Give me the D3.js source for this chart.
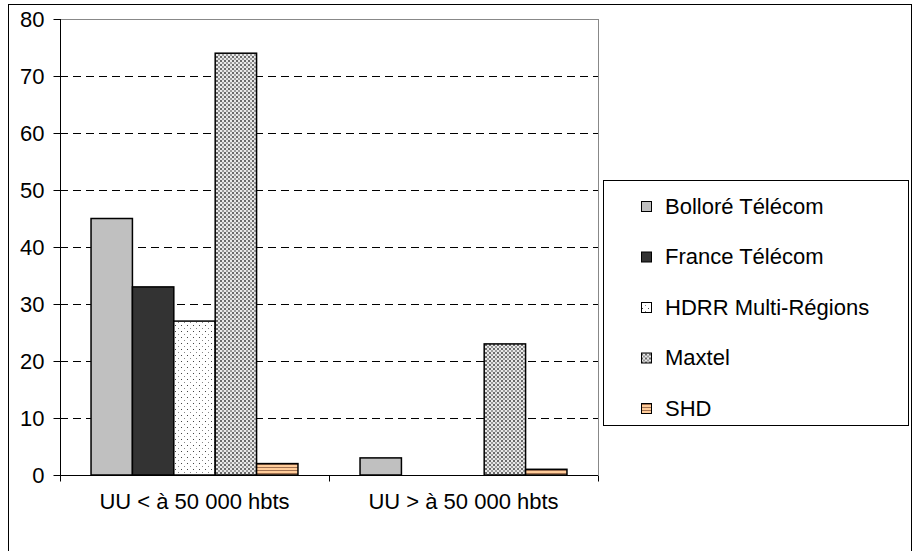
<!DOCTYPE html>
<html lang="fr">
<head>
<meta charset="UTF-8">
<title>Chart</title>
<script src="https://d3js.org/d3.v7.min.js"></script>
<style>
  body { margin: 0; background: #fff; }
  svg { display: block; font-family: "Liberation Sans", Arial, sans-serif; }
  .axis text { font-size: 22px; fill: #000; }
  .legend text { font-size: 22px; fill: #000; }
</style>
</head>
<body>
<svg width="914" height="551"></svg>
<script>
// data
const categories = ["UU < à 50 000 hbts", "UU > à 50 000 hbts"];
const seriesNames = ["Bolloré Télécom", "France Télécom", "HDRR Multi-Régions", "Maxtel", "SHD"];
const bollore = [45, 3];
const franceTelecom = [33, 0];
const hdrr = [27, 0];
const maxtel = [74, 23];
const shd = [2, 1];
const yTicks = [0, 10, 20, 30, 40, 50, 60, 70, 80];

const seriesValues = [bollore, franceTelecom, hdrr, maxtel, shd];

const svg = d3.select("svg");
const margin = { top: 19, left: 60, bottom: 76 };
const height = 551;
const plotRight = 598;

// outer frame
svg.append("rect")
  .attr("x", 8.5).attr("y", 4.5)
  .attr("width", 903).attr("height", 560)
  .attr("fill", "#fff").attr("stroke", "#000");

// patterns
const defs = svg.append("defs");
const dots = defs.append("pattern").attr("id", "dots")
  .attr("patternUnits", "userSpaceOnUse").attr("width", 6).attr("height", 6);
dots.append("rect").attr("width", 6).attr("height", 6).attr("fill", "#fff");
dots.append("rect").attr("x", 1).attr("y", 1).attr("width", 1).attr("height", 1).attr("fill", "#444");
dots.append("rect").attr("x", 4).attr("y", 4).attr("width", 1).attr("height", 1).attr("fill", "#888");

const checker = defs.append("pattern").attr("id", "checker")
  .attr("patternUnits", "userSpaceOnUse").attr("width", 4).attr("height", 4);
checker.append("rect").attr("width", 4).attr("height", 4).attr("fill", "#e8e8e8");
checker.append("rect").attr("x", 0).attr("y", 0).attr("width", 2).attr("height", 2).attr("fill", "#6a6a6a");
checker.append("rect").attr("x", 2).attr("y", 2).attr("width", 2).attr("height", 2).attr("fill", "#9a9a9a");

const stripes = defs.append("pattern").attr("id", "stripes")
  .attr("patternUnits", "userSpaceOnUse").attr("width", 4).attr("height", 3);
stripes.append("rect").attr("width", 4).attr("height", 3).attr("fill", "#ffcc99");
stripes.append("rect").attr("y", 2).attr("width", 4).attr("height", 1).attr("fill", "#a07050");

const fills = ["#c0c0c0", "#333333", "url(#dots)", "url(#checker)", "url(#stripes)"];

const x0 = d3.scaleBand().domain(categories).range([margin.left, plotRight]);
const x1 = d3.scaleBand().domain(seriesNames).range([0, x0.bandwidth()]).paddingOuter(0.75);
const y = d3.scaleLinear().domain([0, 80]).range([height - margin.bottom, margin.top]);

// gridlines
svg.append("g").selectAll("line").data(yTicks.filter(d => d > 0)).join("line")
  .attr("x1", margin.left).attr("x2", plotRight)
  .attr("y1", d => Math.round(y(d)) + 0.5).attr("y2", d => Math.round(y(d)) + 0.5)
  .attr("stroke", d => d === 80 ? "#888" : "#000")
  .attr("stroke-dasharray", d => d === 80 ? null : "8,5");

// plot right border
svg.append("line").attr("x1", plotRight + 0.5).attr("x2", plotRight + 0.5)
  .attr("y1", y(80)).attr("y2", y(0)).attr("stroke", "#888");

// bars
const groups = svg.append("g").selectAll("g").data(categories).join("g")
  .attr("transform", d => `translate(${x0(d)},0)`);
groups.selectAll("rect")
  .data((c, ci) => seriesNames.map((s, si) => ({ s, si, v: seriesValues[si][ci] })).filter(d => d.v > 0))
  .join("rect")
  .attr("x", d => x1(d.s))
  .attr("width", x1.bandwidth())
  .attr("y", d => y(d.v))
  .attr("height", d => y(0) - y(d.v))
  .attr("fill", d => fills[d.si])
  .attr("stroke", "#000")
  .attr("stroke-width", 1.5);

// axes
const yAxis = svg.append("g").attr("class", "axis")
  .attr("transform", `translate(${margin.left + 0.5},0)`)
  .call(d3.axisLeft(y).tickValues(yTicks).tickSize(7).tickPadding(9));
yAxis.select(".domain").attr("stroke", "#000").attr("d", `M0,${y(80)}V${y(0)}`);

const xAxis = svg.append("g").attr("class", "axis")
  .attr("transform", `translate(0,${y(0) + 0.5})`)
  .call(d3.axisBottom(x0).tickSize(0).tickPadding(18));
xAxis.select(".domain").attr("stroke", "#000").attr("d", `M${margin.left},0H${plotRight}`);
// category separator ticks
xAxis.selectAll(".sep").data([0, 1, 2]).join("line")
  .attr("class", "sep")
  .attr("x1", i => Math.round(margin.left + i * x0.bandwidth()) + 0.5)
  .attr("x2", i => Math.round(margin.left + i * x0.bandwidth()) + 0.5)
  .attr("y1", 0).attr("y2", 6).attr("stroke", "#000");

// legend
svg.append("rect").attr("x", 603.5).attr("y", 180.5).attr("width", 305).attr("height", 245)
  .attr("fill", "#fff").attr("stroke", "#000");
const legend = svg.append("g").attr("class", "legend").selectAll("g").data(seriesNames).join("g")
  .attr("transform", (d, i) => `translate(641,${206 + i * 50.5})`);
legend.append("rect").attr("x", 0.5).attr("y", -4.5).attr("width", 10).attr("height", 10)
  .attr("fill", (d, i) => fills[i]).attr("stroke", "#000");
legend.append("text").attr("x", 24).attr("y", 0).attr("dy", "0.35em").text(d => d);
</script>
</body>
</html>
